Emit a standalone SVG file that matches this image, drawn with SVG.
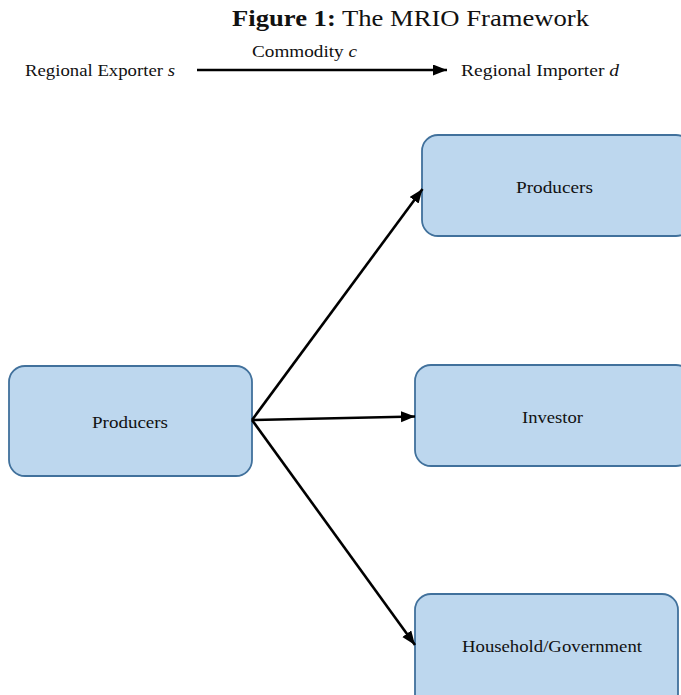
<svg xmlns="http://www.w3.org/2000/svg" width="681" height="695" viewBox="0 0 681 695">
<style>
.box{fill:#BDD7EE;stroke:#41719C;stroke-width:1.8}
text{font-family:"Times New Roman","Liberation Serif",Tinos,Times,serif;fill:#111}
.lbl{font-size:17px}
.conn{stroke:#000;stroke-width:2.6;fill:none}
</style>
<defs>
<marker id="ah" markerUnits="userSpaceOnUse" markerWidth="16" markerHeight="12" refX="14" refY="5.5" orient="auto">
<path d="M0,0 L14,5.5 L0,11 Z" fill="#000"/>
</marker>
</defs>
<rect width="681" height="695" fill="#fff"/>
<g id="title">
<text x="232" y="26" font-size="24" textLength="357" lengthAdjust="spacingAndGlyphs"><tspan font-weight="bold">Figure 1:</tspan> The MRIO Framework</text>
</g>
<g id="legend">
<text class="lbl" x="25" y="76" textLength="150" lengthAdjust="spacingAndGlyphs">Regional Exporter <tspan font-style="italic">s</tspan></text>
<text class="lbl" x="252" y="57" textLength="105" lengthAdjust="spacingAndGlyphs">Commodity  <tspan font-style="italic">c</tspan></text>
<text class="lbl" x="461" y="76" textLength="158" lengthAdjust="spacingAndGlyphs">Regional Importer  <tspan font-style="italic">d</tspan></text>
<line class="conn" x1="197" y1="70" x2="447" y2="70" marker-end="url(#ah)"/>
</g>
<g id="node-producers-src">
<rect class="box" x="9" y="366" width="243" height="110" rx="16"/>
<text class="lbl" x="92" y="427.5" textLength="76" lengthAdjust="spacingAndGlyphs">Producers</text>
</g>
<g id="node-producers-dst">
<rect class="box" x="422" y="135" width="270" height="101" rx="16"/>
<text class="lbl" x="516" y="192.5" textLength="77" lengthAdjust="spacingAndGlyphs">Producers</text>
</g>
<g id="node-investor">
<rect class="box" x="415" y="365" width="277" height="101" rx="16"/>
<text class="lbl" x="522" y="422.5" textLength="61" lengthAdjust="spacingAndGlyphs">Investor</text>
</g>
<g id="node-household">
<rect class="box" x="415" y="594" width="263" height="120" rx="16"/>
<text class="lbl" x="462" y="651.5" textLength="180" lengthAdjust="spacingAndGlyphs">Household/Government</text>
</g>
<g id="connectors">
<line class="conn" x1="252" y1="420" x2="422.5" y2="189" marker-end="url(#ah)"/>
<line class="conn" x1="252" y1="420" x2="415" y2="416.5" marker-end="url(#ah)"/>
<line class="conn" x1="252" y1="420" x2="415" y2="645" marker-end="url(#ah)"/>
</g>
</svg>
